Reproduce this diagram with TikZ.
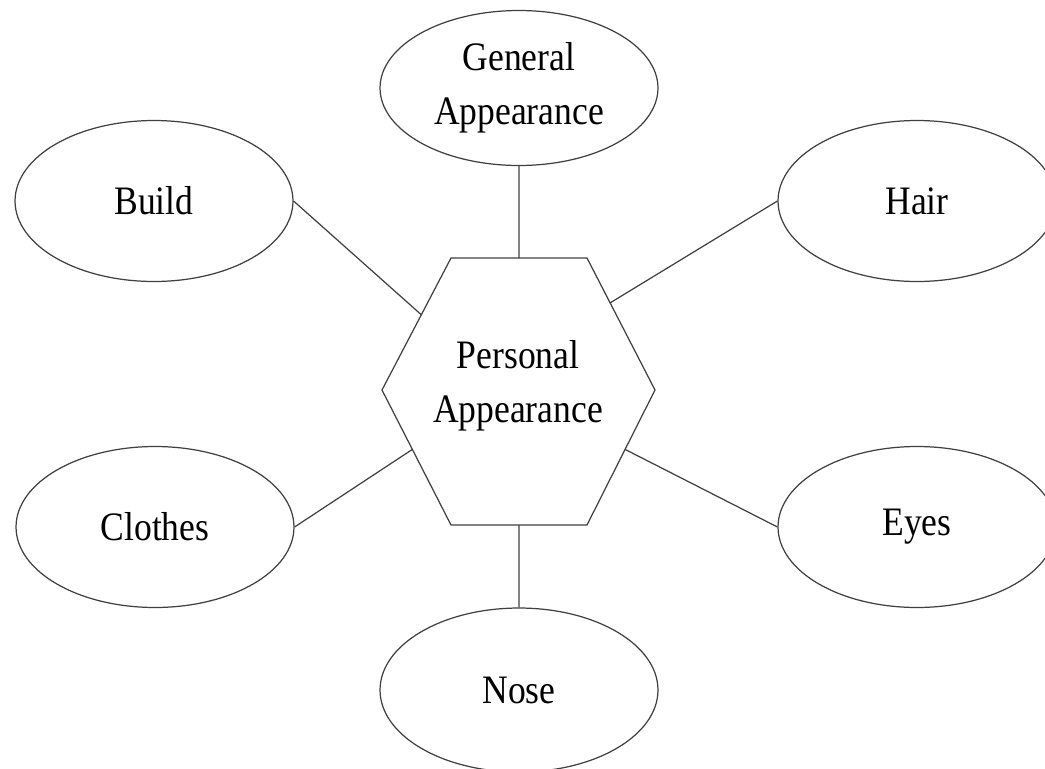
\documentclass[tikz,border=0pt]{standalone}
\usepackage{fontspec}
\setmainfont{Liberation Serif}[FakeStretch=0.88]
\usetikzlibrary{shapes.geometric,calc}

\begin{document}
\begin{tikzpicture}[
    x=0.02cm, y=-0.02cm,
    ovalstyle/.style={ellipse, draw=black!75, line width=0.7pt, minimum width=5.56cm, minimum height=3.22cm, align=center, font=\fontsize{23}{31}\selectfont},
    linestyle/.style={draw=black!75, line width=0.7pt},
    hexstyle/.style={draw=black!75, line width=0.7pt}
]
    \useasboundingbox (0,0) rectangle (1045,768);
    \clip (0,0) rectangle (1045,768);

    \coordinate (tl) at (451,258);
    \coordinate (tr) at (587,258);
    \coordinate (r) at (655,390);
    \coordinate (br) at (587,525);
    \coordinate (bl) at (451,525);
    \coordinate (l) at (382,390);
    \draw[hexstyle] (tl) -- (tr) -- (r) -- (br) -- (bl) -- (l) -- cycle;
    \node[align=center, font=\fontsize{23}{31}\selectfont] (personal) at (518,386) {Personal\\Appearance};

    \node[ovalstyle, minimum height=3.1cm] (general) at (519,88) {General\\Appearance};
    \node[ovalstyle] (build) at (154,201) {Build};
    \node[ovalstyle] (hair) at (917,201) {Hair};
    \node[ovalstyle] (clothes) at (155,527) {Clothes};
    \node[ovalstyle] (eyes) at (917,527) {Eyes};
    \node[ovalstyle, minimum height=3.28cm] (nose) at (519,690) {Nose};

    \coordinate (toppt) at ($(tl)!0.5!(tr)$);
    \coordinate (botpt) at ($(bl)!0.5!(br)$);
    \coordinate (buildpt) at ($(tl)!0.43!(l)$);
    \coordinate (hairpt) at ($(tr)!0.34!(r)$);
    \coordinate (clothespt) at ($(l)!0.44!(bl)$);
    \coordinate (eyespt) at ($(r)!0.44!(br)$);

    \draw[linestyle] (general.south) -- (toppt);
    \draw[linestyle] (nose.north) -- (botpt);
    \draw[linestyle] (build.east) -- (buildpt);
    \draw[linestyle] (hair.west) -- (hairpt);
    \draw[linestyle] (clothes.east) -- (clothespt);
    \draw[linestyle] (eyes.west) -- (eyespt);
\end{tikzpicture}
\end{document}
